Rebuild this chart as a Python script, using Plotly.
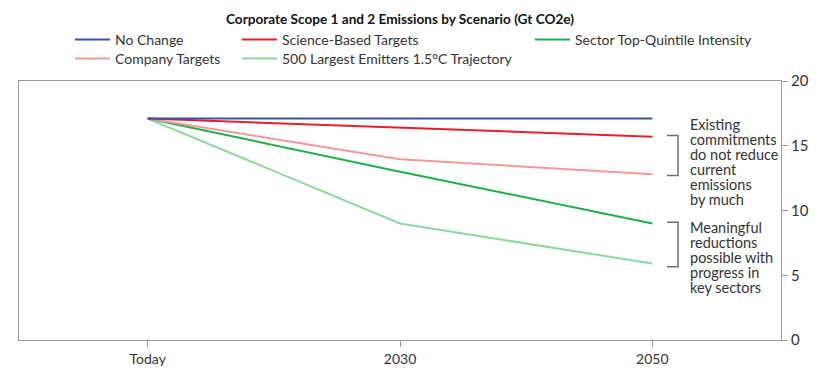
import plotly.graph_objects as go

categories = ["Today", "2030", "2050"]
no_change = [17.1, 17.1, 17.1]
science_based = [17.1, 16.4, 15.7]
company_targets = [17.1, 13.95, 12.8]
sector_top_quintile = [17.1, 13.0, 9.0]
largest_500 = [17.1, 9.0, 5.9]

series_names = ["No Change", "Science-Based Targets", "Sector Top-Quintile Intensity",
                "Company Targets", "500 Largest Emitters 1.5°C Trajectory"]
series_values = [no_change, science_based, sector_top_quintile, company_targets, largest_500]
series_colors = ["#3B52A6", "#E3202C", "#1DAF4E", "#F2999B", "#8ED6A0"]
draw_order = [4, 2, 3, 1, 0]

note1 = ["Existing", "commitments", "do not reduce", "current", "emissions", "by much"]
note2 = ["Meaningful", "reductions", "possible with", "progress in", "key sectors"]

FONT = "Lato"
L, R, T, B = 19, 59, 81, 39
PW, PH = 840 - L - R, 379 - T - B

def px_x(px):
    return (px - L) / PW

def px_y(py):
    return (379 - B - py) / PH

# legend slots (left edge px, row centre px)
legend_slots = [(70, 40), (237, 40), (530, 40), (70, 59), (237, 59)]
legend_ids = ["legend", "legend2", "legend3", "legend4", "legend5"]

fig = go.Figure()
for i in draw_order:
    fig.add_trace(go.Scatter(x=categories, y=series_values[i], mode="lines",
                             name=series_names[i],
                             line=dict(color=series_colors[i], width=2),
                             legend=legend_ids[i]))

def bracket(y_top, y_bot):
    x0, x1 = px_x(667), px_x(678)
    fig.add_shape(type="path", xref="paper", yref="y",
                  path=f"M {x0} {y_top} L {x1} {y_top} L {x1} {y_bot} L {x0} {y_bot}",
                  line=dict(color="#6f6f6f", width=1.5))

bracket(science_based[2] + 0.1, company_targets[2] - 0.1)
bracket(sector_top_quintile[2] + 0.1, largest_500[2] - 0.25)

def note(lines, y_center_px):
    n = len(lines)
    for k, t in enumerate(lines):
        ypx = y_center_px + (k - (n - 1) / 2) * 15
        fig.add_annotation(text=t, xref="paper", yref="paper",
                           x=px_x(688), y=px_y(ypx), xanchor="left", yanchor="middle",
                           showarrow=False, font=dict(family=FONT, size=14.5, color="#333"))

note(note1, 161.5)
note(note2, 257)

legends = {}
for lid, (lx, ly) in zip(legend_ids, legend_slots):
    legends[lid] = dict(orientation="v", xref="paper", yref="paper", xanchor="left",
                        yanchor="middle", x=px_x(lx), y=px_y(ly), itemwidth=35,
                        font=dict(family=FONT, size=14, color="#333"),
                        bgcolor="rgba(0,0,0,0)")

fig.update_layout(
    width=840, height=379,
    margin=dict(l=L, r=R, t=T, b=B, autoexpand=False),
    plot_bgcolor="white", paper_bgcolor="white",
    font=dict(family=FONT, size=14, color="#333"),
    title=dict(text="<b>Corporate Scope 1 and 2 Emissions by Scenario (Gt CO2e)</b>",
               x=0.5, xanchor="center", xref="paper", yref="container",
               y=1 - 19 / 379, yanchor="middle", font=dict(family=FONT, size=13.6, color="#111")),
    xaxis=dict(type="category", range=[-0.51, 2.51], showgrid=False, showline=True,
               linecolor="#9a9a9a", linewidth=1, mirror=True, ticks="outside",
               ticklen=6, tickcolor="#9a9a9a", tickangle=0,
               tickfont=dict(family=FONT, size=14, color="#333")),
    yaxis=dict(range=[0, 20], dtick=5, side="right", showgrid=False, zeroline=False,
               showline=True, linecolor="#9a9a9a", linewidth=1, mirror=True, ticks="outside",
               ticklen=6, tickcolor="#9a9a9a",
               tickfont=dict(family=FONT, size=15, color="#333")),
    showlegend=True,
    **legends,
)
fig.write_html("out.html")
